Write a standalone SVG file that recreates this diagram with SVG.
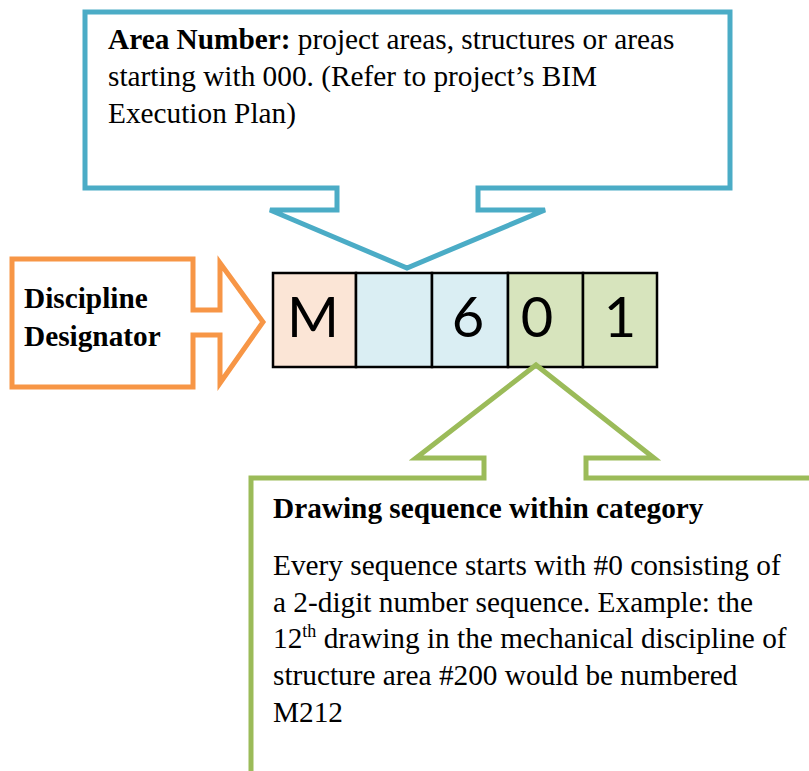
<svg xmlns="http://www.w3.org/2000/svg" width="809" height="771" viewBox="0 0 809 771">
<style>
.t{font-family:"Liberation Serif","Times New Roman",serif;font-size:29.3px;fill:#000}
.b{font-weight:bold}
.c{fill:none;stroke-width:5;stroke-linejoin:miter}
.cell{stroke:#000;stroke-width:2.5}
.d{font-family:Lato,"Open Sans",sans-serif;font-size:56px;fill:#000;text-anchor:middle}
</style>
<rect width="809" height="771" fill="#fff"/>
<g id="area-callout">
<path class="c" stroke="#4BACC6" d="M85,12 L730,12 L730,188 L478,188 L478,210 L545,210 L407,268 L270,210 L337,210 L337,188 L85,188 Z"/>
<text class="t" x="108" y="49"><tspan class="b">Area Number:</tspan> project areas, structures or areas</text>
<text class="t" x="108" y="86">starting with 000. (Refer to project’s BIM</text>
<text class="t" x="108" y="123">Execution Plan)</text>
</g>
<g id="discipline-callout">
<path class="c" stroke="#F79646" d="M12,259 L193,259 L193,310 L220,310 L220,263 L263,322 L220,383 L220,335 L193,335 L193,387 L12,387 Z"/>
<text class="t b" x="24" y="308">Discipline</text>
<text class="t b" x="24" y="346">Designator</text>
</g>
<g id="code">
<rect class="cell" x="273" y="273" width="83" height="94" fill="#FBE5D6"/>
<rect class="cell" x="356" y="273" width="76" height="94" fill="#DAEEF3"/>
<rect class="cell" x="432" y="273" width="76" height="94" fill="#DAEEF3"/>
<rect class="cell" x="508" y="273" width="75" height="94" fill="#D7E4BD"/>
<rect class="cell" x="583" y="273" width="74" height="94" fill="#D7E4BD"/>
<text class="d" x="313" y="337">M</text>
<text class="d" x="468" y="337">6</text>
<text class="d" x="537" y="337">0</text>
<text class="d" x="620" y="337">1</text>
</g>
<g id="sequence-callout">
<path class="c" stroke="#9BBB59" fill="#fff" d="M251,780 L251,478 L484,478 L484,458 L416,458 L536,365 L654,458 L586,458 L586,478 L815,478"/>
<text class="t b" x="273" y="518">Drawing sequence within category</text>
<text class="t" x="273" y="575">Every sequence starts with #0 consisting of</text>
<text class="t" x="273" y="612">a 2-digit number sequence. Example: the</text>
<text class="t" x="273" y="648">12<tspan font-size="18" dy="-11">th</tspan><tspan dy="11"> drawing in the mechanical discipline of</tspan></text>
<text class="t" x="273" y="685">structure area #200 would be numbered</text>
<text class="t" x="273" y="722">M212</text>
</g>
<g id="connectors"></g>
</svg>
